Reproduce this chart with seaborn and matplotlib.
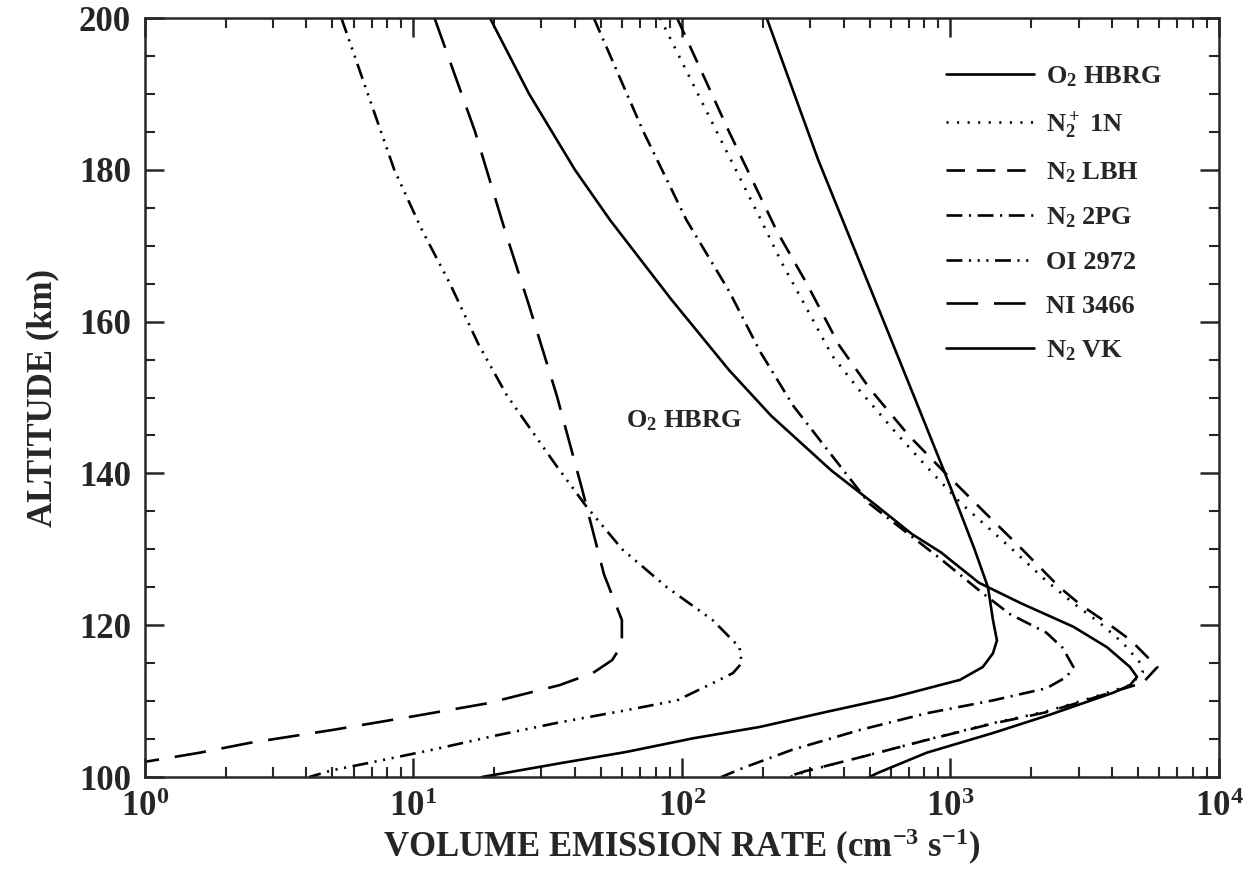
import pandas as pd
import matplotlib
matplotlib.use("Agg")
import matplotlib.pyplot as plt
import seaborn as sns
from matplotlib.ticker import MultipleLocator, LogLocator, NullFormatter, FixedLocator, FixedFormatter

# profiles: altitude (km) and volume emission rate (cm-3 s-1)
o2_hbrg_alt = [200, 190, 180, 173.4, 163, 153.6, 147.6, 140.4, 136, 132, 129.6, 125.6, 122.9, 119.8,
               117.1, 114.5, 113.2, 112.1, 111.1, 109.7, 108.2, 105.8, 103.2, 100.5, 100]
o2_hbrg_rate = [19.3, 27, 40, 54, 91, 150, 215, 360, 520, 720, 922, 1277, 1830, 2870,
                3830, 4660, 4950, 4660, 4030, 3100, 2340, 1440, 815, 533, 500]

n2p_1n_alt = [200, 185, 173.4, 167.7, 161.7, 155.5, 150.9, 145, 140, 136, 130, 126, 122.9, 120.3, 117.7,
              115, 113.8, 112.1, 111.1, 109.7, 108.6, 107.1, 104.9, 102.6, 100.9, 100]
n2p_1n_rate = [83, 135, 197, 236, 292, 363, 460, 640, 860, 1100, 1700, 2250, 2870, 3600, 4380,
               5100, 5200, 4660, 3830, 2870, 2250, 1440, 815, 460, 300, 253]

n2_lbh_alt = [200, 185, 171.9, 165, 156.9, 151.2, 145, 140, 135, 130, 125, 122.7, 120.4, 118, 115,
              114.5, 112.4, 111.2, 109.8, 108.5, 107, 104.8, 102.5, 100.8, 100]
n2_lbh_rate = [96, 150, 226, 292, 385, 500, 700, 960, 1330, 1850, 2550, 3050, 3800, 4700, 5700,
               5900, 5200, 4000, 3000, 2250, 1420, 800, 450, 290, 245]

n2_2pg_alt = [200, 185, 173.4, 164, 156, 148.9, 141.4, 136, 128.7, 124.2, 121.5, 119, 117,
              114.5, 113.2, 111.7, 110.1, 108.4, 106.2, 103.6, 101.2, 100.3, 100]
n2_2pg_rate = [47, 72, 104, 150, 196, 260, 380, 500, 922, 1320, 1660, 2280, 2620,
               2870, 2710, 2280, 1440, 815, 460, 258, 169, 147, 140]

oi_2972_alt = [200, 180, 172, 165, 157, 150.3, 141.4, 135.7, 130, 125, 120.7, 117.1, 115, 113.7,
               112.8, 110.1, 108.8, 107.2, 105.5, 103.6, 101.8, 100.9, 100]
oi_2972_rate = [5.4, 8.5, 10.8, 13.7, 17.5, 22.3, 33.5, 44, 60, 88, 130, 164, 167, 155,
                138, 96, 62, 35, 20.5, 11.8, 6.7, 5.0, 4.1]

ni_3466_alt = [200, 185, 171.9, 162.1, 150.3, 138.1, 126.7, 120.7, 117.4, 115.4, 113.7, 112.1, 109.7,
               108, 106.2, 104.5, 103.2, 102.0]
ni_3466_rate = [12, 17, 22, 27, 34.2, 42.4, 51.3, 59.8, 59.8, 55, 46.6, 35, 18.8,
                10, 5.0, 2.46, 1.6, 1.0]

n2_vk_alt = [200, 181.3, 160, 150, 140, 135, 130, 125, 120.7, 118, 116.3, 114.5, 112.8, 110.5, 108.6,
             106.6, 105.1, 103.3, 101.8, 100]
n2_vk_rate = [207, 322, 565, 735, 955, 1085, 1230, 1380, 1440, 1490, 1440, 1320, 1085, 611, 347,
              195, 110, 62, 35, 18]

labels = ["O$_2$ HBRG", "N$_2^+$ 1N", "N$_2$ LBH", "N$_2$ 2PG", "OI 2972", "NI 3466", "N$_2$ VK"]

x_ticks = [1, 10, 100, 1000, 10000]
x_tick_labels = ["$10^{0}$", "$10^{1}$", "$10^{2}$", "$10^{3}$", "$10^{4}$"]
y_ticks = [100, 120, 140, 160, 180, 200]

profiles = [
    (o2_hbrg_alt, o2_hbrg_rate, "-"),
    (n2p_1n_alt, n2p_1n_rate, (0, (0.8, 3.2))),
    (n2_lbh_alt, n2_lbh_rate, (0, (7, 4.5))),
    (n2_2pg_alt, n2_2pg_rate, (0, (6, 2.5, 0.8, 2.5))),
    (oi_2972_alt, oi_2972_rate, (0, (6, 2.5, 0.8, 2.5, 0.8, 2.5, 0.8, 2.5))),
    (ni_3466_alt, ni_3466_rate, (0, (12, 6))),
    (n2_vk_alt, n2_vk_rate, "-"),
]

sns.set_style("ticks")
plt.rcParams["font.family"] = ["Liberation Serif", "DejaVu Serif"]
plt.rcParams["font.weight"] = "bold"
plt.rcParams["mathtext.fontset"] = "custom"
plt.rcParams["mathtext.rm"] = "Liberation Serif:bold"
plt.rcParams["mathtext.it"] = "Liberation Serif:bold"
plt.rcParams["mathtext.bf"] = "Liberation Serif:bold"
plt.rcParams["mathtext.default"] = "rm"

fig, ax = plt.subplots(figsize=(12.58, 8.8), dpi=100)
fig.subplots_adjust(left=0.115, right=0.969, top=0.9795, bottom=0.117)

for label, (alt, rate, ls) in zip(labels, profiles):
    df = pd.DataFrame({"rate": rate, "alt": alt})
    sns.lineplot(data=df, x="rate", y="alt", sort=False, estimator=None, ax=ax,
                 color="black", linewidth=1.9, linestyle=ls, label=label)

ax.set_xscale("log")
ax.set_xlim(1, 1e4)
ax.set_ylim(100, 200)
ax.xaxis.set_major_locator(FixedLocator(x_ticks))
ax.xaxis.set_major_formatter(FixedFormatter(x_tick_labels))
ax.xaxis.set_minor_locator(LogLocator(base=10, subs=range(2, 10)))
ax.xaxis.set_minor_formatter(NullFormatter())
ax.yaxis.set_major_locator(FixedLocator(y_ticks))
ax.yaxis.set_minor_locator(MultipleLocator(5))

ax.tick_params(which="both", direction="in", top=True, right=True, labelsize=25, pad=10)
ax.tick_params(which="major", length=14, width=1.8)
ax.tick_params(which="minor", length=7, width=1.5)
for s in ax.spines.values():
    s.set_linewidth(1.8)

ax.set_xlabel("VOLUME EMISSION RATE (cm$^{-3}$ s$^{-1}$)", fontsize=25, fontweight="bold", labelpad=2)
ax.set_ylabel("ALTITUDE (km)", fontsize=25, fontweight="bold", labelpad=14)

ax.text(102, 147, "O$_2$ HBRG", ha="center", va="center", fontsize=19)

ax.legend(loc="upper right", bbox_to_anchor=(0.969, 0.97), frameon=False, fontsize=19,
          handlelength=3.33, handletextpad=0.45, labelspacing=0.77)

plt.savefig("out.png", dpi=100)
